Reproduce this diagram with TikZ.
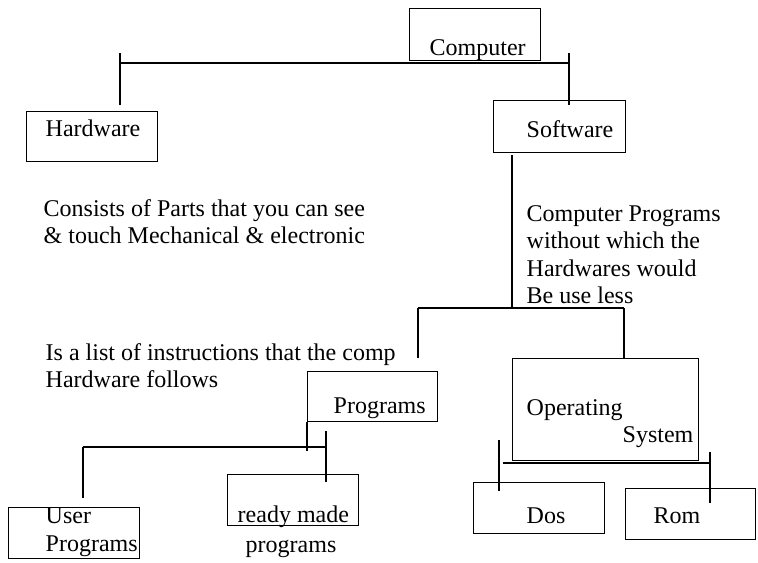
\documentclass[tikz,border=0pt]{standalone}
\usepackage{fontspec}
\setmainfont{Liberation Serif}

\begin{document}
\begin{tikzpicture}[x=0.5pt, y=-0.5pt, line width=0.7pt,
        box/.style 2 args={draw, rectangle, inner sep=0pt, anchor=north west, minimum width=#1*0.5pt, minimum height=#2*0.5pt},
        lbl/.style={anchor=base west, inner sep=0pt, font=\fontsize{12}{13.75}\selectfont, align=left}]
    \useasboundingbox (0,0) rectangle (758,562);

    \node[box={131}{52}] (comp) at (409,8) {};
    \node[box={131}{50}] (hw) at (26,111) {};
    \node[box={132}{52}] (sw) at (493,100) {};
    \node[box={130}{50}] (prog) at (307,371) {};
    \node[box={186}{102}] (os) at (512,358) {};
    \node[box={131}{51}] (dos) at (473,482) {};
    \node[box={130}{51}] (rom) at (625,488) {};
    \node[box={131}{51}] (user) at (8,507) {};
    \node[box={131}{51}] (ready) at (227,474) {};

    % multi-line labels sit on their last line
    \node[lbl] (comptxt) at (429,55) {Computer};
    \node[lbl] (hwtxt) at (45,136) {Hardware};
    \node[lbl] (swtxt) at (526,137) {Software};
    \node[lbl] (progtxt) at (333,413) {Programs};
    \node[lbl] (ostxt) at (526,415) {Operating};
    \node[lbl] (ostxt2) at (622,442) {System};
    \node[lbl] (dostxt) at (526,523) {Dos};
    \node[lbl] (romtxt) at (653,523) {Rom};
    \node[lbl] (usertxt) at (45,551) {User\\Programs};
    \node[lbl] (readytxt) at (237,522) {ready made};
    \node[lbl] (readytxt2) at (245,552) {programs};

    \node[lbl] (hwnote) at (43,243.5) {Consists of Parts that you can see\\\& touch Mechanical \& electronic};
    \node[lbl] (swnote) at (526,303.5) {Computer Programs\\without which the\\Hardwares would\\Be use less};
    \node[lbl] (prognote) at (45,387.5) {Is a list of instructions that the comp\\Hardware follows};

    % tree lines
    \coordinate (b1l) at (120,63);
    \coordinate (b1r) at (569,63);
    \draw (b1l) -- (b1r);
    \draw (b1l) ++(0,-10) -- ++(0,52);
    \draw (b1r) ++(0,-10) -- ++(0,52);

    \coordinate (b2m) at (512,308);
    \coordinate (b2l) at (418,308);
    \coordinate (b2r) at (624,308);
    \draw (b2m) -- ++(0,-153);
    \draw (b2l) -- (b2r);
    \draw (b2l) -- ++(0,50);
    \draw (b2r) -- (b2r |- os.north);

    \coordinate (b3l) at (83,447);
    \coordinate (b3r) at (326,447);
    \draw (prog.south west) -- ++(0,29);
    \draw (b3l) -- (b3r);
    \draw (b3l) -- ++(0,51);
    \draw (b3r) ++(0,-16) -- ++(0,51);

    \coordinate (b4l) at (503,463);
    \coordinate (b4r) at (710,463);
    \draw (b4l) -- (b4r);
    \draw (b4l) ++(-4,-23) -- ++(0,51);
    \draw (b4r) ++(0,-11) -- ++(0,51);
\end{tikzpicture}
\end{document}
